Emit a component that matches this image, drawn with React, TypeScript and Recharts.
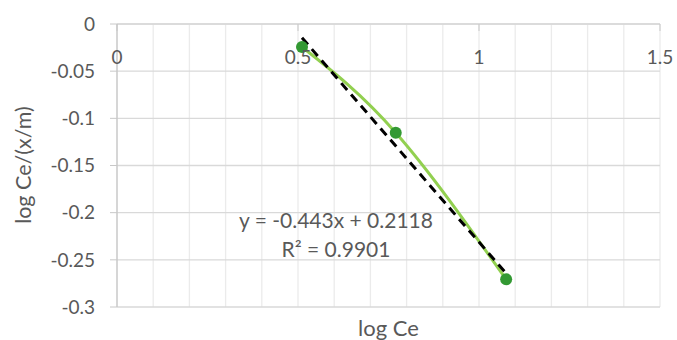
import {
  ComposedChart,
  Line,
  XAxis,
  YAxis,
  CartesianGrid,
} from "recharts";

// observed points (log Ce vs log Ce/(x/m))
const logCe = [0.511, 0.77, 1.075];
const logRatio = [-0.0244, -0.1152, -0.2707];

// linear trendline endpoints, y = -0.443x + 0.2118
const trendX = [0.511, 1.075];
const trendY = [-0.0146, -0.2644];

const xTicks = [0, 0.5, 1, 1.5];
const xMinor = [0.1, 0.2, 0.3, 0.4, 0.5, 0.6, 0.7, 0.8, 0.9, 1, 1.1, 1.2, 1.3, 1.4, 1.5];
const yTicks = [-0.3, -0.25, -0.2, -0.15, -0.1, -0.05, 0];

const equation = "y = -0.443x + 0.2118";
const rSquared = "R² = 0.9901";

const points = logCe.map((x, i) => ({ x, y: logRatio[i] }));
const trend = trendX.map((x, i) => ({ x, y: trendY[i] }));

const FONT = "Lato, 'Open Sans', sans-serif";
const GREY = "#595959";

// x labels sit just under the top axis line, inside the plot
const XTick = (props: any) => {
  const { x, payload } = props;
  return (
    <g>
      <line x1={x} x2={x} y1={24} y2={31} stroke="#c8c8c8" />
      <text
        x={x}
        y={56}
        textAnchor="middle"
        dominantBaseline="central"
        fontSize={19}
        fill={GREY}
        fontFamily={FONT}
      >
        {payload.value}
      </text>
    </g>
  );
};

export default function App() {
  return (
    <div style={{ position: "absolute", left: 0, top: 0, width: 677, height: 340, background: "#fff", fontFamily: FONT }}>
      <ComposedChart
        width={677}
        height={340}
        margin={{ top: 4, right: 17, left: 0, bottom: 33 }}
      >
        <CartesianGrid
          horizontal={false}
          verticalValues={xMinor}
          stroke="#ebebeb"
          strokeWidth={1.3}
        />
        <CartesianGrid
          vertical={false}
          horizontalValues={yTicks}
          stroke="#d9d9d9"
          strokeWidth={1.3}
        />
        <XAxis
          type="number"
          dataKey="x"
          orientation="top"
          height={20}
          domain={[0, 1.5]}
          ticks={xTicks}
          allowDataOverflow
          axisLine={{ stroke: "#d9d9d9", strokeWidth: 1.5 }}
          tickLine={false}
          tick={<XTick />}
        />
        <YAxis
          type="number"
          dataKey="y"
          domain={[-0.3, 0]}
          ticks={yTicks}
          width={117}
          axisLine={{ stroke: "#c8c8c8", strokeWidth: 1.5 }}
          tickLine={{ stroke: "#c8c8c8" }}
          tickSize={7}
          tickMargin={15}
          tick={{ fontSize: 19, fill: GREY, fontFamily: FONT }}
          label={{
            content: () => (
              <text
                x={23}
                y={165}
                transform="rotate(-90 23 165)"
                textAnchor="middle"
                dominantBaseline="central"
                fontSize={21.5}
                fill={GREY}
                fontFamily={FONT}
              >
                log Ce/(x/m)
              </text>
            ),
          }}
        />
        <Line
          data={points}
          dataKey="y"
          type="natural"
          stroke="#92D050"
          strokeWidth={3}
          dot={{ r: 6, fill: "#339933", stroke: "none" }}
          isAnimationActive={false}
        />
        <Line
          data={trend}
          dataKey="y"
          type="linear"
          stroke="#000"
          strokeWidth={3}
          strokeDasharray="9 6"
          dot={false}
          isAnimationActive={false}
        />
      </ComposedChart>
      <div style={{ position: "absolute", left: 239, top: 205, fontSize: 21, color: GREY, whiteSpace: "nowrap", lineHeight: "29px", textAlign: "center" }}>
        {equation}
        <br />
        {rSquared}
      </div>
      <div style={{ position: "absolute", left: 0, width: 777, top: 314, fontSize: 22, color: GREY, textAlign: "center" }}>
        log Ce
      </div>
    </div>
  );
}
